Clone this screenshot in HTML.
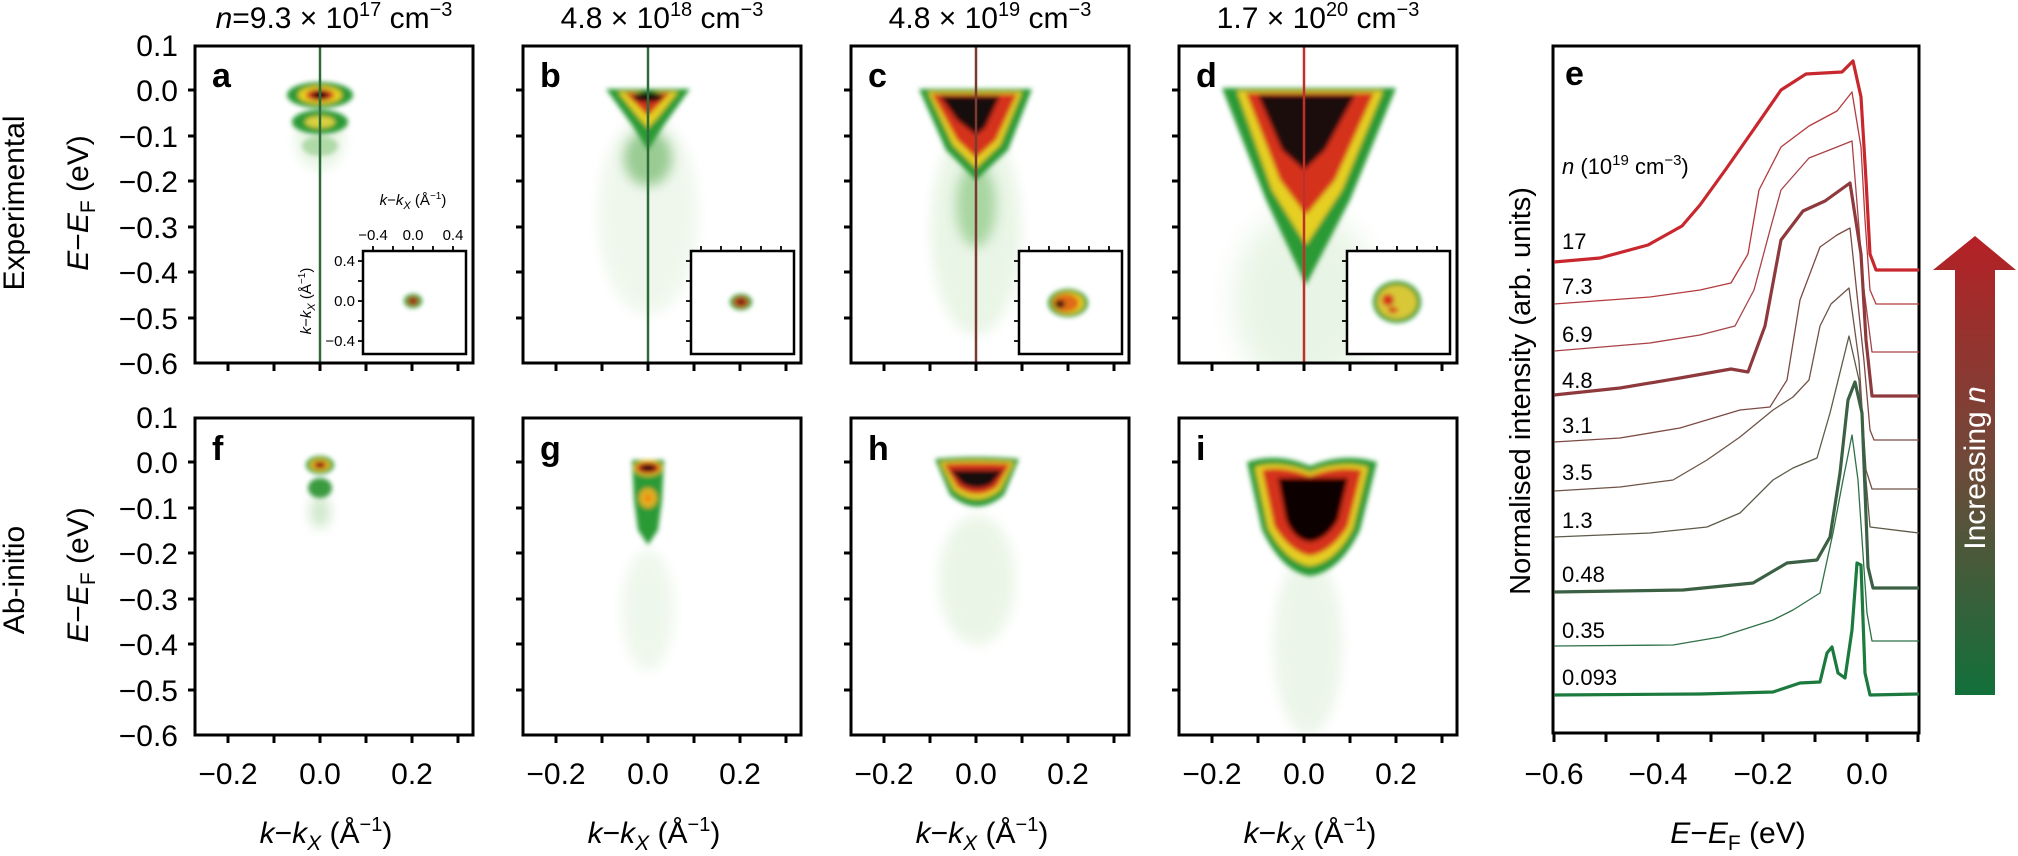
<!DOCTYPE html>
<html><head><meta charset="utf-8"><style>
html,body{margin:0;padding:0;background:#fff}
svg{display:block}
text{font-family:"Liberation Sans",sans-serif;fill:#000}
</style></head><body>
<svg width="2018" height="856" viewBox="0 0 2018 856" xmlns="http://www.w3.org/2000/svg">
<defs>
<filter id="b" x="-50%" y="-50%" width="200%" height="200%"><feGaussianBlur stdDeviation="2.5"/></filter>
<filter id="b2" x="-50%" y="-50%" width="200%" height="200%"><feGaussianBlur stdDeviation="6"/></filter>
<filter id="b3" x="-80%" y="-80%" width="260%" height="260%"><feGaussianBlur stdDeviation="14"/></filter>
<clipPath id="ca"><rect x="195" y="46" width="278" height="317"/></clipPath>
<clipPath id="cb"><rect x="523" y="46" width="278" height="317"/></clipPath>
<clipPath id="cc"><rect x="851" y="46" width="278" height="317"/></clipPath>
<clipPath id="cd"><rect x="1179" y="46" width="278" height="317"/></clipPath>
<clipPath id="cf"><rect x="195" y="418" width="278" height="317"/></clipPath>
<clipPath id="cg"><rect x="523" y="418" width="278" height="317"/></clipPath>
<clipPath id="ch"><rect x="851" y="418" width="278" height="317"/></clipPath>
<clipPath id="ci"><rect x="1179" y="418" width="278" height="317"/></clipPath>
<linearGradient id="arr" x1="0" y1="0" x2="0" y2="1">
<stop offset="0" stop-color="#b52025"/><stop offset="0.5" stop-color="#6e4a3a"/><stop offset="1" stop-color="#12703a"/></linearGradient>
</defs>

<text transform="translate(24,203) rotate(-90)" font-size="30" text-anchor="middle">Experimental</text>
<text transform="translate(24,580) rotate(-90)" font-size="30" text-anchor="middle">Ab-initio</text>
<text transform="translate(88,203) rotate(-90)" font-size="30" text-anchor="middle"><tspan font-style="italic">E</tspan>−<tspan font-style="italic">E</tspan><tspan font-size="21" dy="7">F</tspan><tspan dy="-7"> (eV)</tspan></text>
<text transform="translate(88,575) rotate(-90)" font-size="30" text-anchor="middle"><tspan font-style="italic">E</tspan>−<tspan font-style="italic">E</tspan><tspan font-size="21" dy="7">F</tspan><tspan dy="-7"> (eV)</tspan></text>

<g font-size="30" text-anchor="end">
<text x="178" y="56">0.1</text><text x="178" y="101">0.0</text><text x="178" y="147">−0.1</text><text x="178" y="192">−0.2</text><text x="178" y="238">−0.3</text><text x="178" y="283">−0.4</text><text x="178" y="329">−0.5</text><text x="178" y="374">−0.6</text>
<text x="178" y="428">0.1</text><text x="178" y="473">0.0</text><text x="178" y="519">−0.1</text><text x="178" y="564">−0.2</text><text x="178" y="610">−0.3</text><text x="178" y="655">−0.4</text><text x="178" y="701">−0.5</text><text x="178" y="746">−0.6</text>
</g>

<g font-size="30" text-anchor="middle">
<text x="334" y="28"><tspan font-style="italic">n</tspan>=9.3 × 10<tspan font-size="20" dy="-12">17</tspan><tspan dy="12"> cm</tspan><tspan font-size="20" dy="-12">−3</tspan></text>
<text x="662" y="28">4.8 × 10<tspan font-size="20" dy="-12">18</tspan><tspan dy="12"> cm</tspan><tspan font-size="20" dy="-12">−3</tspan></text>
<text x="990" y="28">4.8 × 10<tspan font-size="20" dy="-12">19</tspan><tspan dy="12"> cm</tspan><tspan font-size="20" dy="-12">−3</tspan></text>
<text x="1318" y="28">1.7 × 10<tspan font-size="20" dy="-12">20</tspan><tspan dy="12"> cm</tspan><tspan font-size="20" dy="-12">−3</tspan></text>
</g>

<!-- a -->
<g clip-path="url(#ca)">
<ellipse cx="320" cy="140" rx="24" ry="30" fill="#d8eed2" opacity="0.6" filter="url(#b2)"/>
<g filter="url(#b)">
<ellipse cx="320" cy="95" rx="33" ry="13" fill="#2a9a35"/>
<ellipse cx="320" cy="95" rx="22" ry="9" fill="#e6cf20"/>
<ellipse cx="320" cy="95" rx="14" ry="6" fill="#d5301a"/>
<ellipse cx="320" cy="95" rx="8" ry="4" fill="#120808"/>
<ellipse cx="320" cy="122" rx="28" ry="12" fill="#2a9a35"/>
<ellipse cx="320" cy="122" rx="15" ry="6" fill="#d9d040"/>
<ellipse cx="320" cy="146" rx="18" ry="10" fill="#8cc880" opacity="0.6"/>
</g>
</g>
<!-- b -->
<g clip-path="url(#cb)">
<ellipse cx="648" cy="215" rx="50" ry="100" fill="#e6f3e2" opacity="0.6" filter="url(#b2)"/>
<ellipse cx="648" cy="158" rx="24" ry="28" fill="#52a848" opacity="0.55" filter="url(#b2)"/>
<g filter="url(#b)">
<path d="M606,89 L690,89 L664,125 L648,150 L632,125 Z" fill="#2a9a35"/>
<path d="M618,92 L678,92 L658,117 L648,128 L638,117 Z" fill="#e6cf20"/>
<path d="M625,93 L670,93 L648,116 Z" fill="#d5301a"/>
<ellipse cx="648" cy="97" rx="15" ry="5" fill="#120808"/>
</g>
</g>
<!-- c -->
<g clip-path="url(#cc)">
<ellipse cx="976" cy="230" rx="45" ry="105" fill="#dcefd6" opacity="0.6" filter="url(#b2)"/>
<ellipse cx="976" cy="205" rx="20" ry="42" fill="#5cb050" opacity="0.45" filter="url(#b2)"/>
<g filter="url(#b)">
<path d="M919,89 L1032,89 L1008,150 L976,180 L946,150 Z" fill="#2a9a35"/>
<path d="M928,92 L1022,92 L1000,145 L976,168 L953,145 Z" fill="#e6cf20"/>
<path d="M932,94 L1017,94 L996,140 L976,158 L957,140 Z" fill="#d5301a"/>
<path d="M940,96 L1000,96 L985,128 L976,135 L957,120 Z" fill="#150808"/>
</g>
</g>
<!-- d -->
<g clip-path="url(#cd)">
<ellipse cx="1304" cy="300" rx="70" ry="90" fill="#d6ecd0" opacity="0.55" filter="url(#b3)"/>
<g filter="url(#b)">
<path d="M1222,88 L1396,88 L1350,200 L1306,285 L1266,200 Z" fill="#2a9a35"/>
<path d="M1237,91 L1383,91 L1342,190 L1306,245 L1272,190 Z" fill="#e6cf20"/>
<path d="M1246,93 L1374,93 L1335,180 L1306,215 L1280,180 Z" fill="#d5301a"/>
<path d="M1258,95 L1355,95 L1325,150 L1304,170 L1282,150 Z" fill="#1a0808"/>
</g>
</g>

<!-- f -->
<g clip-path="url(#cf)">
<ellipse cx="320" cy="512" rx="10" ry="16" fill="#b0d8a8" opacity="0.6" filter="url(#b2)"/>
<g filter="url(#b)">
<ellipse cx="320" cy="488" rx="12" ry="10" fill="#3a9a40"/>
<ellipse cx="320" cy="465" rx="14" ry="9" fill="#2a9a35"/>
<ellipse cx="320" cy="465" rx="10" ry="6" fill="#e6cf20"/>
<ellipse cx="320" cy="465" rx="7" ry="4" fill="#d5301a"/>
<ellipse cx="320" cy="465" rx="3.5" ry="2.2" fill="#120808"/>
</g>
</g>
<!-- g -->
<g clip-path="url(#cg)">
<ellipse cx="648" cy="610" rx="26" ry="60" fill="#e8f4e4" opacity="0.7" filter="url(#b2)"/>
<g filter="url(#b)">
<path d="M632,460 L664,460 L662,500 L658,530 L648,545 L638,530 L634,500 Z" fill="#2a9a35"/>
<ellipse cx="648" cy="498" rx="9" ry="10" fill="#e0b020"/>
<ellipse cx="648" cy="498" rx="4" ry="4" fill="#f08a10"/>
<ellipse cx="648" cy="468" rx="14" ry="8" fill="#e6cf20"/>
<ellipse cx="648" cy="468" rx="12" ry="6" fill="#d5301a"/>
<ellipse cx="648" cy="468" rx="8" ry="3.5" fill="#120808"/>
</g>
</g>
<!-- h -->
<g clip-path="url(#ch)">
<ellipse cx="977" cy="580" rx="38" ry="65" fill="#e2f2dd" opacity="0.7" filter="url(#b2)"/>
<g filter="url(#b)">
<path d="M935,459 Q977,455 1019,459 L1004,495 Q977,518 950,495 Z" fill="#2a9a35"/>
<path d="M940,462 Q977,459 1014,462 L1000,490 Q977,508 954,490 Z" fill="#e6cf20"/>
<path d="M944,464 Q977,462 1010,464 L997,487 Q977,501 957,487 Z" fill="#d5301a"/>
<path d="M950,470 L1003,470 L992,484 Q977,492 962,484 Z" fill="#120808"/>
</g>
</g>
<!-- i -->
<g clip-path="url(#ci)">
<ellipse cx="1308" cy="645" rx="34" ry="90" fill="#e4f2e0" opacity="0.7" filter="url(#b2)"/>
<g filter="url(#b)">
<path d="M1247,462 Q1278,452 1310,466 Q1344,452 1377,462 L1360,530 Q1340,572 1310,576 Q1282,572 1262,530 Z" fill="#2a9a35"/>
<path d="M1255,467 Q1280,460 1310,472 Q1340,460 1368,467 L1353,528 Q1336,562 1310,566 Q1286,562 1268,528 Z" fill="#e6cf20"/>
<path d="M1262,470 Q1282,465 1310,476 Q1338,465 1362,470 L1348,526 Q1332,552 1310,556 Q1290,552 1274,526 Z" fill="#d5301a"/>
<path d="M1278,478 L1348,478 L1338,520 Q1326,540 1310,542 Q1294,540 1286,520 Z" fill="#100505"/>
</g>
</g>

<line x1="320" y1="46" x2="320" y2="363" stroke="#2d6b3a" stroke-width="2.5"/>
<line x1="648" y1="46" x2="648" y2="363" stroke="#2d6b3a" stroke-width="2.5"/>
<line x1="976" y1="46" x2="976" y2="363" stroke="#7a3a30" stroke-width="2.5"/>
<line x1="1304" y1="46" x2="1304" y2="363" stroke="#c0302a" stroke-width="2.5"/>

<g fill="#fff" stroke="#000" stroke-width="2.5">
<rect x="363" y="251" width="103" height="103"/>
<rect x="691" y="251" width="103" height="103"/>
<rect x="1019" y="251" width="103" height="103"/>
<rect x="1347" y="251" width="103" height="103"/>
</g>
<g stroke="#000" stroke-width="1.8">
<path d="M373,251v-5M393,251v-5M413,251v-5M433,251v-5M453,251v-5M363,261h-5M363,281h-5M363,301h-5M363,321h-5M363,341h-5"/>
<path d="M701,251v-5M721,251v-5M741,251v-5M761,251v-5M781,251v-5M691,261h-5M691,281h-5M691,301h-5M691,321h-5M691,341h-5"/>
<path d="M1029,251v-5M1049,251v-5M1069,251v-5M1089,251v-5M1109,251v-5M1019,261h-5M1019,281h-5M1019,301h-5M1019,321h-5M1019,341h-5"/>
<path d="M1357,251v-5M1377,251v-5M1397,251v-5M1417,251v-5M1437,251v-5M1347,261h-5M1347,281h-5M1347,301h-5M1347,321h-5M1347,341h-5"/>
</g>
<g filter="url(#b)">
<ellipse cx="413" cy="301" rx="9" ry="7" fill="#2a9a35"/><ellipse cx="413" cy="301" rx="5" ry="4" fill="#d5301a"/><ellipse cx="413" cy="301" rx="2.5" ry="2" fill="#120808"/>
<ellipse cx="741" cy="302" rx="11" ry="8" fill="#2a9a35"/><ellipse cx="741" cy="302" rx="7" ry="5" fill="#d5301a"/><ellipse cx="741" cy="302" rx="3.5" ry="2.5" fill="#120808"/>
<ellipse cx="1068" cy="303" rx="20" ry="14" fill="#2a9a35"/><ellipse cx="1068" cy="303" rx="16" ry="11" fill="#e6cf20"/><ellipse cx="1066" cy="303" rx="13" ry="9" fill="#e06a18"/><ellipse cx="1060" cy="304" rx="5" ry="4" fill="#200808"/>
<ellipse cx="1397" cy="302" rx="24" ry="21" fill="#2a9a35"/><ellipse cx="1397" cy="302" rx="20" ry="17" fill="#d8c838"/><ellipse cx="1388" cy="300" rx="6" ry="6" fill="#d5301a"/><ellipse cx="1393" cy="310" rx="5" ry="3" fill="#d5301a"/>
</g>
<g font-size="15">
<text x="413" y="205" text-anchor="middle"><tspan font-style="italic">k</tspan>−<tspan font-style="italic">k</tspan><tspan font-style="italic" font-size="11" dy="4">X</tspan><tspan dy="-4"> (Å</tspan><tspan font-size="10" dy="-6">−1</tspan><tspan dy="6">)</tspan></text>
<text x="373" y="240" text-anchor="middle">−0.4</text><text x="413" y="240" text-anchor="middle">0.0</text><text x="453" y="240" text-anchor="middle">0.4</text>
<text x="355" y="266" text-anchor="end">0.4</text><text x="355" y="306" text-anchor="end">0.0</text><text x="355" y="346" text-anchor="end">−0.4</text>
<text transform="translate(311,301) rotate(-90)" text-anchor="middle"><tspan font-style="italic">k</tspan>−<tspan font-style="italic">k</tspan><tspan font-style="italic" font-size="11" dy="4">X</tspan><tspan dy="-4"> (Å</tspan><tspan font-size="10" dy="-6">−1</tspan><tspan dy="6">)</tspan></text>
</g>

<g fill="none" stroke="#000" stroke-width="3">
<rect x="195" y="46" width="278" height="317"/><rect x="523" y="46" width="278" height="317"/><rect x="851" y="46" width="278" height="317"/><rect x="1179" y="46" width="278" height="317"/>
<rect x="195" y="418" width="278" height="317"/><rect x="523" y="418" width="278" height="317"/><rect x="851" y="418" width="278" height="317"/><rect x="1179" y="418" width="278" height="317"/>
</g>
<g stroke="#000" stroke-width="3">
<path id="tk" d="M195,90h-7M195,136h-7M195,181h-7M195,227h-7M195,272h-7M195,318h-7M228,363v8M274,363v8M320,363v8M366,363v8M412,363v8M458,363v8"/>
<use href="#tk" x="328"/><use href="#tk" x="656"/><use href="#tk" x="984"/>
<use href="#tk" y="372"/><use href="#tk" x="328" y="372"/><use href="#tk" x="656" y="372"/><use href="#tk" x="984" y="372"/>
</g>

<g font-size="34" font-weight="bold">
<text x="212" y="87">a</text><text x="540" y="87">b</text><text x="868" y="87">c</text><text x="1196" y="87">d</text>
<text x="212" y="460">f</text><text x="540" y="460">g</text><text x="868" y="460">h</text><text x="1196" y="460">i</text>
<text x="1565" y="85">e</text>
</g>

<g font-size="30" text-anchor="middle">
<text x="228" y="784">−0.2</text><text x="320" y="784">0.0</text><text x="412" y="784">0.2</text>
<text x="556" y="784">−0.2</text><text x="648" y="784">0.0</text><text x="740" y="784">0.2</text>
<text x="884" y="784">−0.2</text><text x="976" y="784">0.0</text><text x="1068" y="784">0.2</text>
<text x="1212" y="784">−0.2</text><text x="1304" y="784">0.0</text><text x="1396" y="784">0.2</text>
<text x="1554" y="784">−0.6</text><text x="1658" y="784">−0.4</text><text x="1763" y="784">−0.2</text><text x="1867" y="784">0.0</text>
</g>
<g font-size="30" text-anchor="middle">
<text x="326" y="843"><tspan font-style="italic">k</tspan>−<tspan font-style="italic">k</tspan><tspan font-style="italic" font-size="21" dy="7">X</tspan><tspan dy="-7"> (Å</tspan><tspan font-size="20" dy="-12">−1</tspan><tspan dy="12">)</tspan></text>
<text x="654" y="843"><tspan font-style="italic">k</tspan>−<tspan font-style="italic">k</tspan><tspan font-style="italic" font-size="21" dy="7">X</tspan><tspan dy="-7"> (Å</tspan><tspan font-size="20" dy="-12">−1</tspan><tspan dy="12">)</tspan></text>
<text x="982" y="843"><tspan font-style="italic">k</tspan>−<tspan font-style="italic">k</tspan><tspan font-style="italic" font-size="21" dy="7">X</tspan><tspan dy="-7"> (Å</tspan><tspan font-size="20" dy="-12">−1</tspan><tspan dy="12">)</tspan></text>
<text x="1310" y="843"><tspan font-style="italic">k</tspan>−<tspan font-style="italic">k</tspan><tspan font-style="italic" font-size="21" dy="7">X</tspan><tspan dy="-7"> (Å</tspan><tspan font-size="20" dy="-12">−1</tspan><tspan dy="12">)</tspan></text>
<text x="1738" y="843"><tspan font-style="italic">E</tspan>−<tspan font-style="italic">E</tspan><tspan font-size="21" dy="7">F</tspan><tspan dy="-7"> (eV)</tspan></text>
</g>

<rect x="1553" y="46" width="366" height="687" fill="none" stroke="#000" stroke-width="3"/>
<path d="M1554,733v9M1606,733v9M1658,733v9M1711,733v9M1763,733v9M1815,733v9M1867,733v9M1918,733v9" stroke="#000" stroke-width="3"/>
<text transform="translate(1530,391) rotate(-90)" font-size="29" text-anchor="middle">Normalised intensity (arb. units)</text>
<text x="1562" y="174" font-size="22"><tspan font-style="italic">n</tspan> (10<tspan font-size="15" dy="-9">19</tspan><tspan dy="9"> cm</tspan><tspan font-size="15" dy="-9">−3</tspan><tspan dy="9">)</tspan></text>
<g font-size="22">
<text x="1562" y="249">17</text><text x="1562" y="294">7.3</text><text x="1562" y="342">6.9</text><text x="1562" y="388">4.8</text>
<text x="1562" y="433">3.1</text><text x="1562" y="480">3.5</text><text x="1562" y="528">1.3</text><text x="1562" y="582">0.48</text>
<text x="1562" y="638">0.35</text><text x="1562" y="685">0.093</text>
</g>
<g fill="none" stroke-linejoin="round">
<polyline stroke="#c8282d" stroke-width="3.2" points="1554,262 1600,258 1648,245 1682,226 1700,205 1726,169 1754,129 1781,90 1806,74 1842,72 1853,61 1861,97 1866,180 1870,254 1876,270 1919,270"/>
<polyline stroke="#b53a3e" stroke-width="1.3" points="1554,304 1650,297 1700,290 1731,283 1748,254 1759,190 1781,147 1809,126 1837,111 1852,92 1861,147 1865,220 1870,290 1876,304 1919,304"/>
<polyline stroke="#a84248" stroke-width="1.3" points="1554,351 1650,343 1700,335 1735,326 1754,290 1770,230 1781,190 1809,158 1837,147 1852,141 1864,290 1872,352 1919,352"/>
<polyline stroke="#8e3a3c" stroke-width="3.2" points="1554,395 1620,388 1680,378 1731,369 1748,372 1765,326 1781,240 1803,211 1825,201 1850,183 1861,254 1866,340 1872,396 1919,396"/>
<polyline stroke="#7d4a44" stroke-width="1.3" points="1554,442 1620,438 1680,428 1740,410 1770,407 1787,380 1800,300 1820,247 1837,235 1850,228 1864,361 1870,430 1874,440 1919,440"/>
<polyline stroke="#6e5448" stroke-width="1.3" points="1554,491 1620,487 1673,480 1707,460 1740,437 1773,410 1793,397 1809,380 1820,326 1831,304 1849,288 1859,361 1866,470 1872,489 1919,489"/>
<polyline stroke="#5e5a4a" stroke-width="1.3" points="1554,537 1650,533 1707,527 1740,513 1773,480 1793,468 1817,458 1830,413 1849,336 1859,380 1866,480 1870,527 1919,533"/>
<polyline stroke="#3b6044" stroke-width="3.2" points="1554,592 1683,590 1753,583 1787,563 1817,560 1830,537 1840,473 1848,400 1855,382 1862,413 1868,567 1873,588 1919,588"/>
<polyline stroke="#2f7048" stroke-width="1.3" points="1554,646 1673,645 1720,637 1773,620 1793,610 1820,593 1833,533 1843,480 1852,435 1858,480 1867,613 1872,641 1919,641"/>
<polyline stroke="#1c7a3e" stroke-width="3.2" points="1554,695 1700,694 1773,692 1800,683 1820,682 1827,653 1832,647 1838,673 1845,678 1852,630 1857,563 1861,565 1865,673 1870,695 1919,694"/>
</g>

<path d="M1975,236 L2016,270 L1995,270 L1995,695 L1955,695 L1955,270 L1933,270 Z" fill="url(#arr)"/>
<text transform="translate(1985,468) rotate(-90)" font-size="30" text-anchor="middle" style="fill:#fff">Increasing <tspan font-style="italic">n</tspan></text>
</svg>
</body></html>
